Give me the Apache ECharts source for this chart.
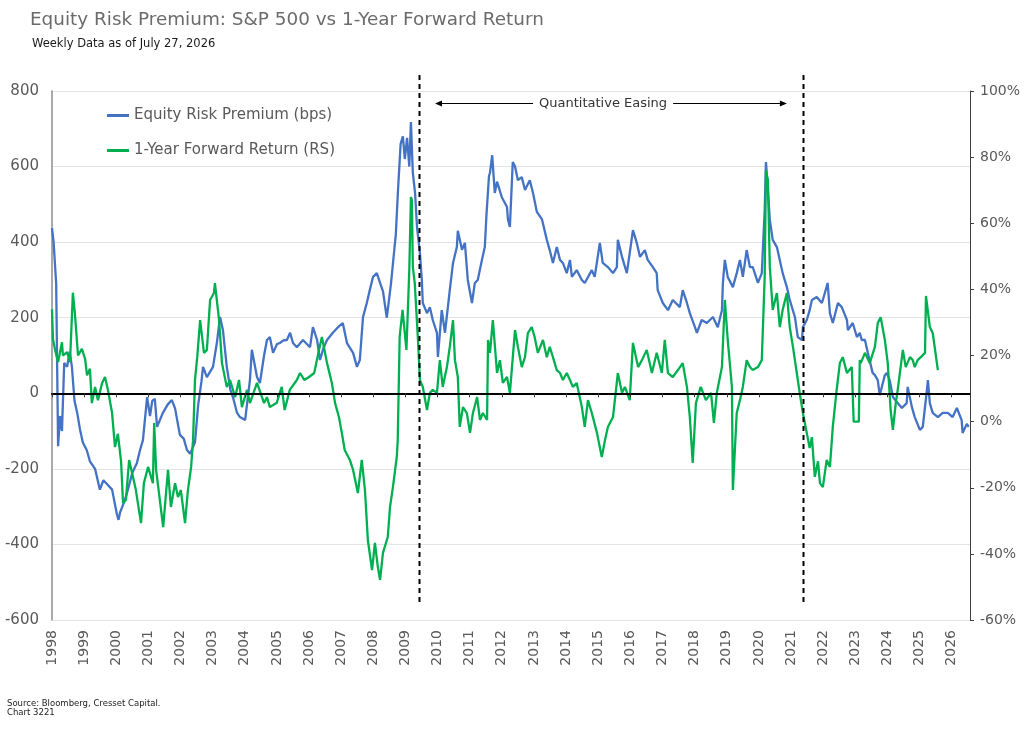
<!DOCTYPE html>
<html><head><meta charset="utf-8">
<script src="https://cdn.jsdelivr.net/npm/echarts@6/dist/echarts.min.js"></script>
<style>html,body{margin:0;padding:0;background:#fff}#c{width:1024px;height:744px}</style>
</head><body><div id="c"></div>
<script>
// ---- data (decimal years) ----
const erpYears = [1998.00,1998.05,1998.13,1998.19,1998.25,1998.31,1998.38,1998.47,1998.55,1998.62,1998.70,1998.78,1998.87,1998.96,1999.08,1999.18,1999.34,1999.49,1999.60,1999.71,1999.87,2000.02,2000.07,2000.12,2000.27,2000.36,2000.50,2000.64,2000.74,2000.83,2000.96,2001.05,2001.12,2001.20,2001.27,2001.45,2001.60,2001.73,2001.83,2001.98,2002.10,2002.20,2002.30,2002.36,2002.45,2002.55,2002.65,2002.70,2002.82,2003.01,2003.13,2003.23,2003.32,2003.44,2003.55,2003.63,2003.76,2003.85,2004.01,2004.16,2004.22,2004.38,2004.47,2004.60,2004.69,2004.78,2004.88,2005.00,2005.09,2005.20,2005.31,2005.41,2005.50,2005.62,2005.81,2006.03,2006.12,2006.25,2006.34,2006.45,2006.56,2006.74,2006.90,2007.05,2007.18,2007.37,2007.49,2007.58,2007.68,2007.80,2007.89,2007.99,2008.11,2008.21,2008.30,2008.42,2008.55,2008.63,2008.70,2008.77,2008.85,2008.92,2008.98,2009.05,2009.12,2009.17,2009.23,2009.30,2009.36,2009.45,2009.51,2009.54,2009.67,2009.76,2009.85,2009.98,2010.01,2010.13,2010.23,2010.38,2010.48,2010.60,2010.63,2010.76,2010.85,2010.94,2011.07,2011.16,2011.25,2011.38,2011.47,2011.52,2011.60,2011.63,2011.70,2011.78,2011.85,2012.00,2012.16,2012.19,2012.25,2012.34,2012.41,2012.50,2012.62,2012.72,2012.87,2012.97,2013.09,2013.25,2013.40,2013.49,2013.59,2013.71,2013.81,2013.90,2014.02,2014.12,2014.18,2014.33,2014.49,2014.58,2014.80,2014.89,2015.05,2015.14,2015.30,2015.46,2015.58,2015.61,2015.74,2015.89,2015.98,2016.08,2016.20,2016.30,2016.45,2016.54,2016.70,2016.82,2016.85,2017.01,2017.17,2017.32,2017.54,2017.63,2017.76,2017.85,2018.01,2018.07,2018.22,2018.38,2018.57,2018.72,2018.85,2018.88,2018.94,2019.03,2019.19,2019.31,2019.41,2019.50,2019.62,2019.72,2019.81,2019.97,2020.09,2020.18,2020.22,2020.28,2020.34,2020.43,2020.56,2020.65,2020.74,2020.87,2020.96,2021.12,2021.21,2021.34,2021.37,2021.49,2021.58,2021.65,2021.80,2021.96,2021.99,2022.14,2022.21,2022.30,2022.46,2022.58,2022.74,2022.77,2022.92,2023.05,2023.14,2023.20,2023.30,2023.39,2023.54,2023.61,2023.70,2023.76,2023.92,2023.98,2024.07,2024.17,2024.32,2024.45,2024.60,2024.63,2024.76,2024.85,2025.01,2025.10,2025.22,2025.26,2025.32,2025.41,2025.57,2025.72,2025.88,2026.03,2026.16,2026.31,2026.34,2026.47,2026.53];
const erpValues = [437,400,290,-140,-60,-100,80,70,110,70,-20,-50,-95,-130,-150,-180,-200,-255,-230,-240,-255,-320,-335,-315,-282,-256,-210,-185,-150,-124,-10,-60,-20,-15,-89,-52,-30,-18,-40,-110,-120,-150,-160,-158,-130,-30,30,70,43,70,133,202,167,70,10,-10,-52,-63,-71,35,115,43,27,100,141,149,107,130,133,140,141,160,133,122,141,122,175,141,88,120,141,160,175,186,133,107,70,88,202,240,273,308,318,292,270,200,290,360,420,540,660,680,620,676,600,718,583,530,440,371,300,239,212,228,194,160,96,220,160,273,345,387,430,380,398,300,239,292,300,353,387,470,575,583,630,530,560,519,493,460,440,612,600,564,572,538,564,530,480,460,406,379,345,387,353,345,318,353,308,326,300,292,326,308,398,345,334,318,334,406,361,318,371,432,398,361,379,353,334,318,273,239,220,247,228,273,239,212,175,160,194,186,202,175,220,292,353,308,281,318,353,308,379,334,334,292,318,485,612,538,459,406,387,353,318,281,247,202,149,141,175,194,220,247,255,239,247,292,212,186,239,228,194,167,186,149,160,141,141,107,54,48,35,-5,48,54,35,-10,-26,-39,-26,17,-36,-63,-97,-89,1,35,-26,-52,-63,-52,-52,-63,-39,-71,-105,-81,-89];

const fwdYears = [1998.00,1998.03,1998.09,1998.19,1998.31,1998.34,1998.47,1998.56,1998.65,1998.71,1998.81,1998.93,1999.03,1999.09,1999.18,1999.24,1999.34,1999.43,1999.56,1999.65,1999.74,1999.87,1999.96,2000.05,2000.15,2000.21,2000.30,2000.40,2000.52,2000.61,2000.77,2000.86,2000.99,2001.14,2001.18,2001.24,2001.46,2001.61,2001.70,2001.83,2001.92,2002.01,2002.14,2002.23,2002.33,2002.39,2002.45,2002.52,2002.61,2002.73,2002.82,2002.92,2003.04,2003.07,2003.20,2003.29,2003.44,2003.54,2003.70,2003.82,2003.91,2004.07,2004.16,2004.38,2004.60,2004.69,2004.78,2004.99,2005.15,2005.24,2005.40,2005.62,2005.72,2005.85,2006.00,2006.16,2006.31,2006.40,2006.56,2006.71,2006.81,2006.93,2007.02,2007.11,2007.27,2007.37,2007.52,2007.64,2007.74,2007.83,2007.96,2008.05,2008.14,2008.21,2008.30,2008.45,2008.52,2008.61,2008.73,2008.76,2008.82,2008.91,2009.03,2009.12,2009.17,2009.20,2009.23,2009.29,2009.39,2009.45,2009.54,2009.67,2009.76,2009.85,2009.98,2010.07,2010.16,2010.29,2010.38,2010.48,2010.54,2010.63,2010.69,2010.79,2010.91,2011.01,2011.10,2011.23,2011.32,2011.41,2011.54,2011.57,2011.63,2011.72,2011.85,2011.94,2012.03,2012.16,2012.25,2012.41,2012.50,2012.62,2012.72,2012.81,2012.93,2013.02,2013.12,2013.28,2013.40,2013.49,2013.59,2013.71,2013.81,2013.90,2014.02,2014.12,2014.21,2014.33,2014.49,2014.58,2014.68,2014.80,2014.96,2015.11,2015.21,2015.30,2015.46,2015.61,2015.74,2015.83,2015.98,2016.08,2016.24,2016.36,2016.51,2016.67,2016.82,2016.98,2017.07,2017.17,2017.32,2017.48,2017.63,2017.76,2017.85,2017.94,2018.04,2018.19,2018.35,2018.51,2018.60,2018.69,2018.85,2018.94,2019.03,2019.16,2019.19,2019.31,2019.41,2019.50,2019.62,2019.72,2019.81,2019.97,2020.09,2020.18,2020.22,2020.28,2020.34,2020.43,2020.56,2020.65,2020.74,2020.87,2020.96,2021.06,2021.18,2021.27,2021.37,2021.49,2021.58,2021.65,2021.74,2021.84,2021.90,2021.99,2022.11,2022.21,2022.30,2022.42,2022.52,2022.61,2022.74,2022.89,2022.95,2023.11,2023.14,2023.17,2023.30,2023.45,2023.61,2023.70,2023.79,2023.92,2024.01,2024.10,2024.17,2024.26,2024.32,2024.48,2024.57,2024.70,2024.79,2024.85,2024.94,2025.04,2025.17,2025.20,2025.32,2025.41,2025.57];
const fwdValues = [34,25,22,18,24,20,21,18,39,33,20,22,19,14,16,5.6,10.5,6.5,11.7,13.5,9.6,2.6,-7.7,-3.7,-12,-24.6,-23.7,-11.6,-16.7,-20.7,-30.7,-18.6,-13.7,-18.6,-0.4,-14.6,-31.9,-14.6,-25.8,-18.6,-22.8,-20.7,-30.7,-20.7,-13.7,-5.6,12.6,19.5,30.7,20.8,21.7,36.8,38.9,41.9,30.7,17.7,10.5,12.6,7.4,12.6,4.4,9.6,5.6,11.7,5.6,7.4,4.4,5.6,10.5,3.5,9.6,12.6,14.7,12.6,13.5,14.7,21.7,25.6,17.7,11.7,5.6,1.4,-3.4,-8.6,-11.6,-14.6,-21.6,-11.6,-20.7,-35.8,-44.9,-36.7,-43.9,-47.9,-39.7,-34.9,-25.8,-19.8,-10.7,-5.6,25.6,33.8,21.7,45.9,67.9,67,46.8,41.9,24.7,12.6,10.5,3.5,8.7,9.6,8.7,18.6,10.5,16.5,22.6,30.7,18.6,13.5,-1.6,4.4,2.6,-3.4,2.6,7.4,0.5,2.6,0.5,24.7,20.8,30.7,14.7,18.6,11.7,13.5,8.7,27.7,22.6,16.5,19.5,26.8,28.6,25.6,20.8,24.7,19.5,22.6,19.5,15.6,14.7,12.6,14.7,12.6,10.5,11.7,4.4,-1.6,6.5,2.6,-3.4,-10.7,-5.6,-1.6,1.4,14.7,8.7,10.5,6.5,23.8,16.5,18.6,21.7,14.7,20.8,14.7,24.7,14.7,13.5,15.6,17.7,10.5,1.4,-12.5,5.6,10.5,6.5,8.7,-0.4,8.7,16.5,36.8,24.7,10.5,-20.7,2.6,6.5,10.5,18.6,16.5,15.6,16.5,18.6,43.7,76,73,46.8,33.8,38.9,28.6,33.8,38.9,28.6,22.6,14.7,8.7,2.6,-3.4,-8,-4.7,-16.7,-12,-18.6,-19.8,-11.6,-13.7,-1.6,9.6,17.7,19.5,14.7,16.5,0,0,18.6,17.7,20.8,17.7,22.6,29.8,31.6,24.7,17.7,3.5,-2.5,5.6,9.6,21.7,16.5,19.5,18.6,16.5,18.6,19.5,20.8,38,28.6,26.8,15.6];

const yearMin = 1998, yearMax = 2026.57;
const erpMin = -600, erpMax = 800, erpStep = 200;
const retMin = -60, retMax = 100, retStep = 20;
const qeStartYear = 2009.42, qeEndYear = 2021.37;
const qeArrowFrom = 2009.92, qeArrowTo = 2020.87, qeLabelYear = 2015.15;

const FONT = '"DejaVu Sans", sans-serif';
const chart = echarts.init(document.getElementById('c'), null, {renderer: 'canvas'});

const option = {
  animation: false,
  backgroundColor: '#ffffff',
  textStyle: {fontFamily: FONT},
  title: [
    {text: 'Equity Risk Premium: S&P 500 vs 1-Year Forward Return', left: 25, top: 6,
     textStyle: {fontFamily: FONT, fontSize: 18.4, fontWeight: 'normal', color: '#6b6b6b'}},
    {text: 'Weekly Data as of July 27, 2026', left: 27, top: 33,
     textStyle: {fontFamily: FONT, fontSize: 11.5, fontWeight: 'normal', color: '#1a1a1a'}},
    {text: 'Source: Bloomberg, Cresset Capital.\nChart 3221', left: 2, top: 694,
     textStyle: {fontFamily: FONT, fontSize: 8.5, lineHeight: 9.5, fontWeight: 'normal', color: '#222'}}
  ],
  legend: {
    orient: 'vertical', left: 102, top: 103, itemGap: 20,
    icon: 'rect', itemWidth: 22, itemHeight: 3,
    textStyle: {fontFamily: FONT, fontSize: 15, color: '#595959'},
    data: ['Equity Risk Premium (bps)', '1-Year Forward Return (RS)']
  },
  grid: {left: 52, right: 54, top: 91, bottom: 124, containLabel: false, outerBoundsMode: 'none'},
  xAxis: [
    {type: 'value', min: yearMin, max: yearMax, interval: 1, position: 'bottom',
     axisLine: {show: false, onZero: false}, axisTick: {show: false}, splitLine: {show: false},
     axisLabel: {rotate: 90, margin: 10, fontSize: 14, color: '#595959', fontFamily: FONT,
                 showMaxLabel: false, formatter: v => (Math.abs(v - Math.round(v)) < 1e-6 ? String(Math.round(v)) : '')}},
    {type: 'value', min: yearMin, max: yearMax, interval: 1, position: 'bottom', z: 5,
     axisLine: {show: true, onZero: true, onZeroAxisIndex: 0, lineStyle: {color: '#000', width: 2}},
     axisTick: {show: true, length: 4, lineStyle: {color: '#333', width: 1}},
     axisLabel: {show: false}, splitLine: {show: false}}
  ],
  yAxis: [
    {type: 'value', min: erpMin, max: erpMax, interval: erpStep, position: 'left',
     axisLine: {show: true, onZero: false, lineStyle: {color: '#8c8c8c', width: 1.5}},
     axisTick: {show: false},
     axisLabel: {fontSize: 15, color: '#595959', margin: 13, fontFamily: FONT},
     splitLine: {show: true, lineStyle: {color: '#e3e3e3', width: 1}}},
    {type: 'value', min: retMin, max: retMax, interval: retStep, position: 'right',
     axisLine: {show: true, onZero: false, lineStyle: {color: '#404040', width: 1}},
     axisTick: {show: true, length: 4, lineStyle: {color: '#404040'}},
     axisLabel: {fontSize: 14, color: '#595959', margin: 10, fontFamily: FONT, formatter: '{value}%'},
     splitLine: {show: false}}
  ],
  series: [
    {name: 'Equity Risk Premium (bps)', type: 'line', xAxisIndex: 0, yAxisIndex: 0,
     showSymbol: false, symbol: 'none', color: '#4472C4',
     lineStyle: {color: '#4472C4', width: 2.3},
     data: erpYears.map((y, i) => [y, erpValues[i]])},
    {name: '1-Year Forward Return (RS)', type: 'line', xAxisIndex: 0, yAxisIndex: 1,
     showSymbol: false, symbol: 'none', color: '#00B050',
     lineStyle: {color: '#00B050', width: 2.3},
     data: fwdYears.map((y, i) => [y, fwdValues[i]])}
  ]
};
chart.setOption(option);

function overlay() {
  const px = (yr, v) => chart.convertToPixel({xAxisIndex: 0, yAxisIndex: 0}, [yr, v]);
  const top = px(yearMin, erpMax)[1];
  const bottom = px(yearMin, erpMin)[1];
  const els = [];
  [qeStartYear, qeEndYear].forEach(yr => {
    const x = Math.round(px(yr, 0)[0]) + 0.5;
    els.push({type: 'line', z: 100, silent: true,
      shape: {x1: x, y1: top - 16, x2: x, y2: bottom - 14},
      style: {stroke: '#000', lineWidth: 2, lineDash: [5, 4]}});
  });
  const ay = top + 12.5;
  const xl = px(qeArrowFrom, 0)[0], xr = px(qeArrowTo, 0)[0], xm = px(qeLabelYear, 0)[0];
  els.push({type: 'line', z: 100, silent: true, shape: {x1: xl + 3, y1: ay, x2: xr - 3, y2: ay},
    style: {stroke: '#000', lineWidth: 1}});
  els.push({type: 'polygon', z: 100, silent: true, shape: {points: [[xl, ay], [xl + 7, ay - 3], [xl + 7, ay + 3]]},
    style: {fill: '#000'}});
  els.push({type: 'polygon', z: 100, silent: true, shape: {points: [[xr, ay], [xr - 7, ay - 3], [xr - 7, ay + 3]]},
    style: {fill: '#000'}});
  els.push({type: 'text', z: 101, silent: true, x: xm, y: ay,
    style: {text: 'Quantitative Easing', fill: '#333', font: '13px "DejaVu Sans", sans-serif',
            align: 'center', verticalAlign: 'middle', backgroundColor: '#fff', padding: [2, 6]}});
  chart.setOption({graphic: {elements: els}});
}
overlay();
</script>
</body></html>
